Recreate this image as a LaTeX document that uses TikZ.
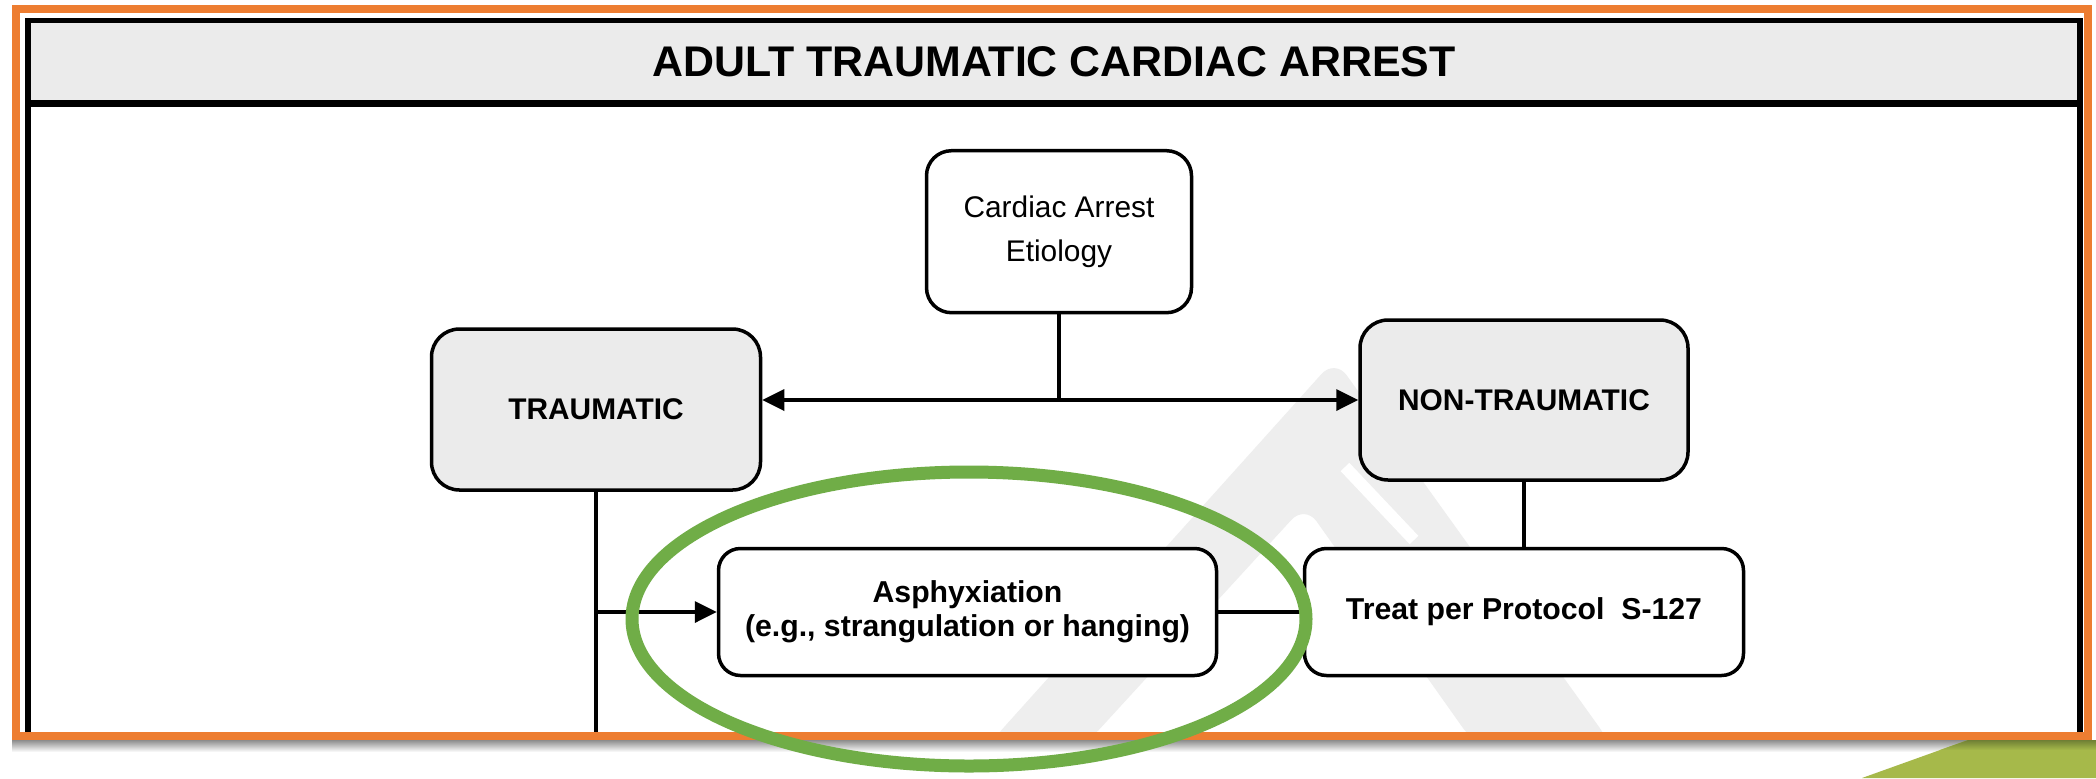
\documentclass[tikz,border=0pt]{standalone}
\usepackage{fontspec}
\setsansfont{Liberation Sans}
\usetikzlibrary{arrows.meta,positioning,calc}

\definecolor{frameorange}{HTML}{ED7D31}
\definecolor{ringgreen}{HTML}{70AD47}
\definecolor{boxgray}{HTML}{EBEBEB}
\definecolor{markgray}{HTML}{EEEEEE}
\definecolor{cornergreen}{HTML}{A6B94A}
\definecolor{cornershade}{HTML}{6F7F35}

\begin{document}
\begin{tikzpicture}[
  x=0.1mm, y=-0.1mm,
  font=\sffamily,
  >={Triangle[length=2.2mm,width=2.1mm]},
  titletext/.style={font=\sffamily\bfseries\fontsize{12.2}{14}\selectfont},
  startbox/.style={
    draw, rounded corners=2.5mm, line width=0.35mm,
    minimum width=26.5mm, minimum height=16.2mm,
    align=center, fill=white,
    font=\sffamily\fontsize{8.5}{12.3}\selectfont
  },
  typebox/.style={
    draw, rounded corners=2.8mm, line width=0.35mm,
    minimum width=32.9mm, minimum height=16.1mm,
    align=center, fill=boxgray,
    font=\sffamily\bfseries\fontsize{8.5}{10}\selectfont
  },
  stepbox/.style={
    draw, rounded corners=2.2mm, line width=0.35mm,
    minimum height=12.7mm,
    align=center, fill=white,
    font=\sffamily\bfseries\fontsize{8.6}{9.6}\selectfont
  },
  conn/.style={line width=0.35mm},
  arr/.style={->, line width=0.35mm},
  logomark/.style={fill=markgray, rounded corners=2mm},
  ring/.style={draw=ringgreen, line width=1.3mm}
]

% =============================================================
% page + frame
% =============================================================
\fill[white] (0,0) rectangle (2096,778);
\useasboundingbox (0,0) rectangle (2096,778);

\coordinate (fnw) at (28,20.5);
\coordinate (fse) at (2080,736);

% faint logo behind the chart
\begin{scope}
  \clip (31,107) rectangle (2077,732);
  \fill[logomark] (988,745) -- (1335,359) -- (1612,745)
     -- (1475,745) -- (1305,505) -- (1085,745) -- cycle;
  \draw[white, line width=1.3mm] (1112,528) -- (1180,600);
  \draw[white, line width=1.2mm] (1345,467) -- (1414,540);
\end{scope}

% title bar
\fill[boxgray] (fnw) rectangle (2080,103.5);
\node[titletext] (title) at (1054,62) {ADULT TRAUMATIC CARDIAC ARREST};
\draw[line width=0.55mm] (fnw) rectangle (fse);
\draw[line width=0.65mm] (28,103.5) -- (2080,103.5);

% =============================================================
% boxes
% =============================================================
\node[startbox] (etiology) at (1059,231.7) {Cardiac Arrest\\Etiology};

\node[typebox] (trauma) at (596,409.5) {TRAUMATIC};
\node[typebox, minimum width=32.8mm, minimum height=16mm]
   (nontrauma) at (1524,400) {NON-TRAUMATIC};

\node[stepbox, minimum width=43.9mm, below=6.5mm of nontrauma]
   (treat) {Treat per Protocol\ \ S-127};
\node[stepbox, minimum width=49.8mm, left=8.45mm of treat]
   (asphyx) {Asphyxiation\\(e.g., strangulation or hanging)};

% =============================================================
% connectors
% =============================================================
\coordinate (split) at (etiology.south |- nontrauma.west);

% etiology -> traumatic / non-traumatic
\draw[conn] (etiology.south) -- (split);
\draw[arr] (split) -- (split -| trauma.east);
\draw[arr] (split) -- (nontrauma.west);

% traumatic -> asphyxiation (line runs on past the frame)
\draw[conn] (trauma.south) -- (trauma.south |- fse);
\draw[arr] (trauma.south |- asphyx.west) -- (asphyx.west);

% asphyxiation / non-traumatic -> treat
\draw[conn] (asphyx.east) -- (treat.west);
\draw[conn] (nontrauma.south) -- (nontrauma.south |- treat.north);

% =============================================================
% outer orange frame, shadow, corner
% =============================================================
\draw[frameorange, line width=0.85mm] (16,9) rectangle (2088,736);
\shade[top color=black!45, bottom color=white] (12,740) rectangle (1975,752);
\fill[cornergreen] (1968,740) -- (2096,740) -- (2096,778) -- (1862,778) -- cycle;
\shade[top color=cornershade, bottom color=cornergreen]
   (1968,740) -- (2096,740) -- (2096,750) -- (1940,750) -- cycle;

% green highlight round the asphyxiation box
\draw[ring] (969,619) ellipse [x radius=337, y radius=147];

\end{tikzpicture}
\end{document}
